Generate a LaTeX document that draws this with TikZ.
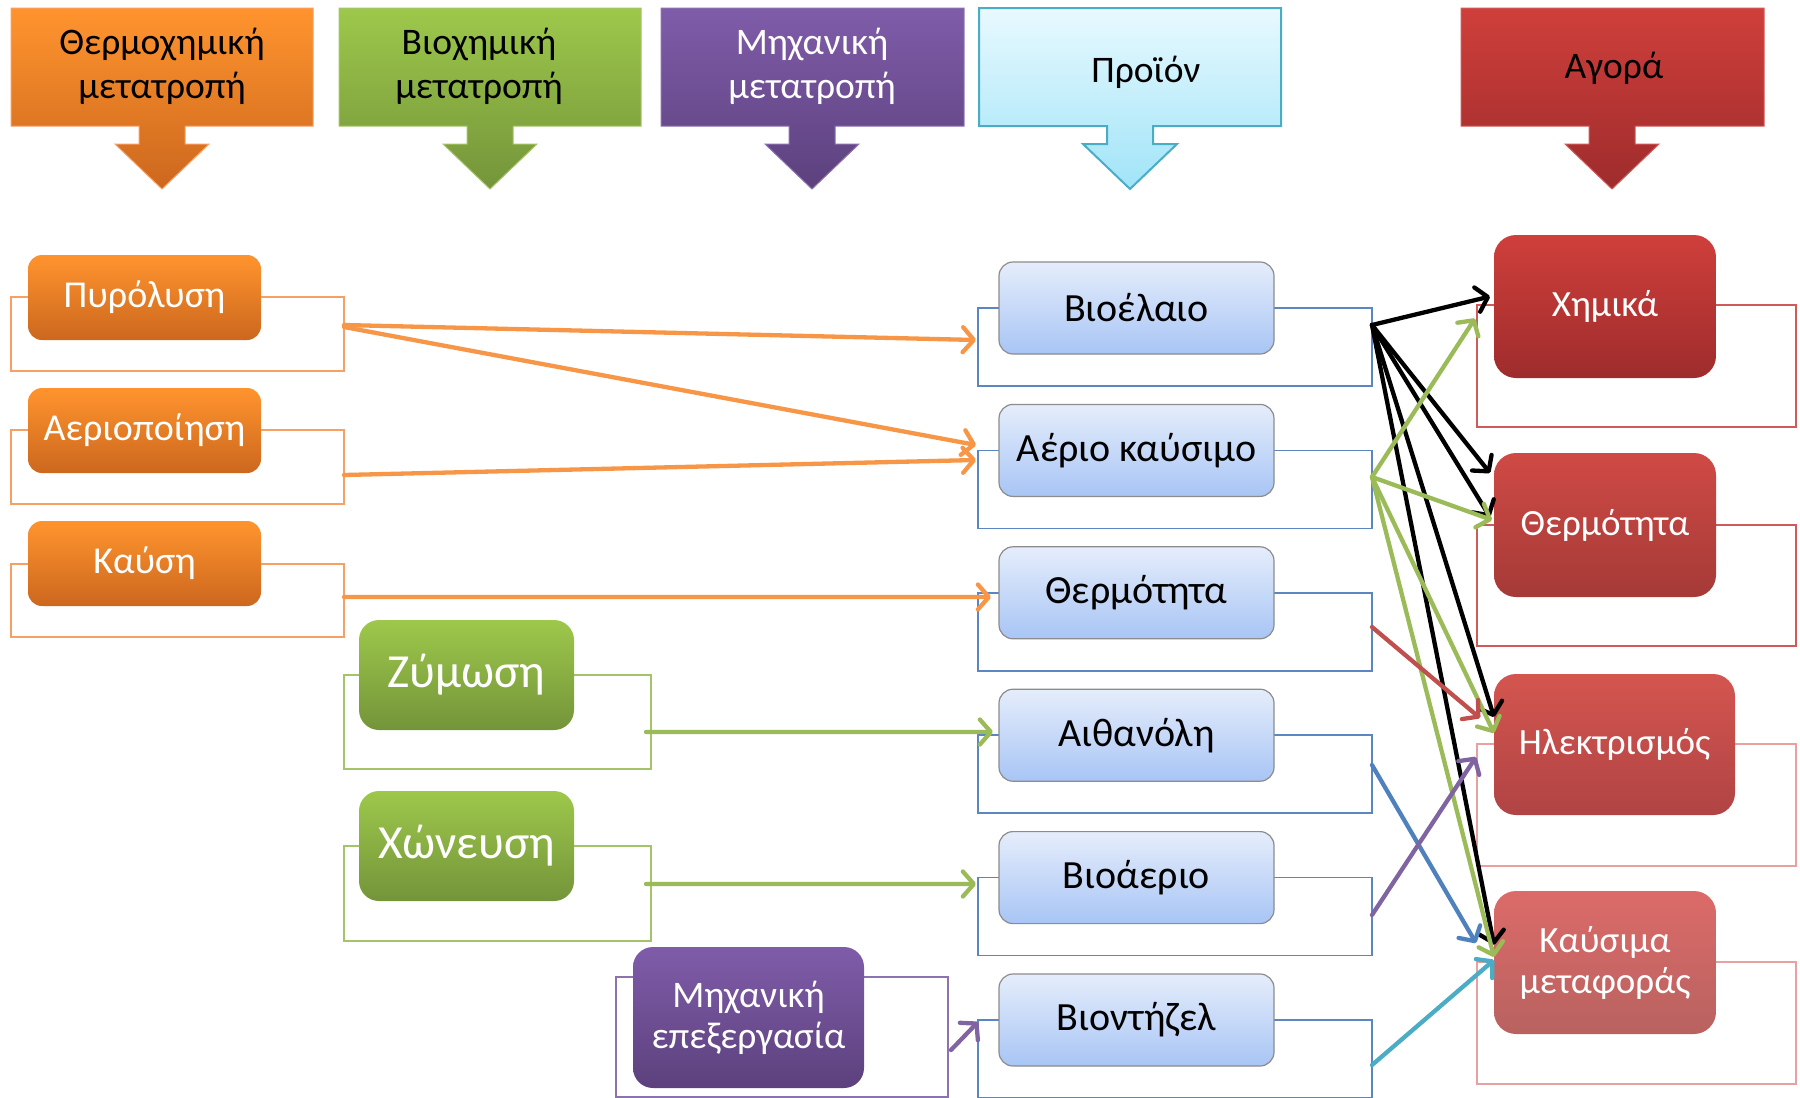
\documentclass[tikz,border=0pt]{standalone}
\usepackage{fontspec}
\setmainfont{Carlito}
\usetikzlibrary{arrows.meta,calc}
\definecolor{orTop}{HTML}{FF942E}
\definecolor{orBot}{HTML}{CC671E}
\definecolor{grTop}{HTML}{9DC84B}
\definecolor{grBot}{HTML}{74943A}
\definecolor{puTop}{HTML}{7F5CA9}
\definecolor{puBot}{HTML}{5C417D}
\definecolor{cyTop}{HTML}{E8F9FE}
\definecolor{cyBot}{HTML}{A0E4F8}
\definecolor{cyLine}{HTML}{4BACC6}
\definecolor{rdTop}{HTML}{CF3F3B}
\definecolor{rdBot}{HTML}{9E2C2C}
\definecolor{rdTopB}{HTML}{CF4A45}
\definecolor{rdBotB}{HTML}{A53A37}
\definecolor{rdTopC}{HTML}{D4554F}
\definecolor{rdBotC}{HTML}{B04444}
\definecolor{rdTopD}{HTML}{DC6B69}
\definecolor{rdBotD}{HTML}{B86260}
\definecolor{pbTop}{HTML}{E5EDFB}
\definecolor{pbBot}{HTML}{A8C5F5}
\definecolor{pbLine}{HTML}{8C8C8C}
\definecolor{olOr}{HTML}{F7A064}
\definecolor{olGr}{HTML}{A5C46A}
\definecolor{olPu}{HTML}{8C72AE}
\definecolor{olBl}{HTML}{5B86C2}
\definecolor{olRd}{HTML}{D05A5A}
\definecolor{olPk}{HTML}{E8A0A0}
\definecolor{aOr}{HTML}{F79646}
\definecolor{aGr}{HTML}{9BBB59}
\definecolor{aRd}{HTML}{C0504D}
\definecolor{aBl}{HTML}{4F81BD}
\definecolor{aPu}{HTML}{8064A2}
\definecolor{aCy}{HTML}{4BACC6}
\newcommand\hdrshape[4]{%
  \path[#4] (#1,8) -- (#2,8) -- (#2,126) -- ({#3+23},126) -- ({#3+23},144) -- ({#3+47},144) -- (#3,189) -- ({#3-47},144) -- ({#3-23},144) -- ({#3-23},126) -- (#1,126) -- cycle;}
\begin{document}
\begin{tikzpicture}[x=1pt,y=-1pt,
  box/.style={anchor=north west, inner sep=0pt, outer sep=0pt, align=center},
  ol/.style={box, draw=#1, line width=1.5pt},
  htext/.style={align=center, font=\fontsize{37.5}{44}\selectfont},
  leftbox/.style={box, rounded corners=14pt, top color=orTop, bottom color=orBot, text=white, font=\fontsize{38}{46}\selectfont, minimum width=233pt, minimum height=85pt},
  greenbox/.style={box, rounded corners=20pt, top color=grTop, bottom color=grBot, text=white, font=\fontsize{47.5}{56}\selectfont, minimum width=215pt, minimum height=110pt},
  mechbox/.style={box, rounded corners=20pt, top color=puTop, bottom color=puBot, text=white, font=\fontsize{37.5}{41}\selectfont, minimum width=231pt, minimum height=141pt},
  prodbox/.style={box, rounded corners=14pt, top color=pbTop, bottom color=pbBot, draw=pbLine, line width=1.2pt, font=\fontsize{40}{46}\selectfont, minimum width=275pt, minimum height=92pt},
  mktbox/.style 2 args={box, rounded corners=22pt, top color=#1, bottom color=#2, text=white, font=\fontsize{37}{41}\selectfont, minimum width=222pt, minimum height=143pt},
  arr/.style={line width=4.3pt, line cap=round, line join=round, draw=#1, -{Straight Barb[round,length=11pt,width=25pt]}}
]
\useasboundingbox (0,0) rectangle (1800,1098);

% headers
\hdrshape{11}{313}{162}{top color=orTop, bottom color=orBot, draw=olOr, line width=1pt}
\hdrshape{339}{641}{490}{top color=grTop, bottom color=grBot, draw=olGr, line width=1pt}
\hdrshape{661}{964}{812}{top color=puTop, bottom color=puBot, draw=olPu, line width=1pt}
\hdrshape{979}{1281}{1130}{top color=cyTop, bottom color=cyBot, draw=cyLine, line width=2pt}
\hdrshape{1461}{1764}{1612}{top color=rdTop, bottom color=rdBot, draw=olRd, line width=1pt}
\node[htext] (h1) at (162,66) {Θερμοχημική\\μετατροπή};
\node[htext] (h2) at (479,66) {Βιοχημική\\μετατροπή};
\node[htext, text=white] (h3) at (812,66) {Μηχανική\\μετατροπή};
\node[htext] (h4) at (1146,72) {Προϊόν};
\node[htext] (h5) at (1614,68) {Αγορά};

% outline rectangles
\node[ol=olOr, minimum width=333pt, minimum height=74pt] (po) at (11,297) {};
\node[ol=olOr, minimum width=333pt, minimum height=74pt] (ao) at (11,430) {};
\node[ol=olOr, minimum width=333pt, minimum height=73pt] (ko) at (11,564) {};
\node[ol=olGr, minimum width=307pt, minimum height=94pt] (zo) at (344,675) {};
\node[ol=olGr, minimum width=307pt, minimum height=95pt] (xo) at (344,846) {};
\node[ol=olPu, minimum width=332pt, minimum height=120pt] (mo) at (616,977) {};
\foreach \k in {1,...,6}{
  \node[ol=olBl, minimum width=394pt, minimum height=78pt] (bo\k) at (978,{308+142.4*(\k-1)}) {};
}
\node[ol=olRd, minimum width=319pt, minimum height=122pt] (mo1) at (1477,305) {};
\node[ol=olRd, minimum width=319pt, minimum height=121pt] (mo2) at (1477,525) {};
\node[ol=olPk, minimum width=319pt, minimum height=122pt] (mo3) at (1477,744) {};
\node[ol=olPk, minimum width=319pt, minimum height=122pt] (mo4) at (1477,962) {};

% left process boxes
\node[leftbox] (pyr) at (28,255) {Πυρόλυση};
\node[leftbox] (aer) at (28,388) {Αεριοποίηση};
\node[leftbox] (kay) at (28,521) {Καύση};
\node[greenbox] (zym) at (359,620) {Ζύμωση};
\node[greenbox] (xon) at (359,791) {Χώνευση};
\node[mechbox] (mech) at (633,947) {Μηχανική\\επεξεργασία};

% products
\node[prodbox] (pb1) at (999,262) {Βιοέλαιο};
\node[prodbox] (pb2) at (999,404.4) {Αέριο καύσιμο};
\node[prodbox] (pb3) at (999,546.8) {Θερμότητα};
\node[prodbox] (pb4) at (999,689.2) {Αιθανόλη};
\node[prodbox] (pb5) at (999,831.6) {Βιοάεριο};
\node[prodbox] (pb6) at (999,974) {Βιοντήζελ};

% markets
\node[mktbox={rdTop}{rdBot}] (mb1) at (1494,235) {Χημικά};
\node[mktbox={rdTopB}{rdBotB}, minimum height=144pt] (mb2) at (1494,453) {Θερμότητα};
\node[mktbox={rdTopC}{rdBotC}, minimum width=241pt, minimum height=141pt] (mb3) at (1494,674) {Ηλεκτρισμός};
\node[mktbox={rdTopD}{rdBotD}] (mb4) at (1494,891) {Καύσιμα\\μεταφοράς};

% process -> product
\draw[arr=aOr] ([yshift=9pt]po.east) -- ([xshift=-2pt,yshift=7pt]bo1.west);
\draw[arr=aOr] ([yshift=7pt]po.east) -- ([xshift=-2pt,yshift=44.4pt]bo2.west);
\draw[arr=aOr] ([yshift=-8pt]ao.east) -- ([xshift=-2pt,yshift=29.4pt]bo2.west);
\draw[arr=aOr] ([yshift=3.5pt]ko.east) -- ([xshift=13pt,yshift=34.8pt]bo3.west);
\draw[arr=aGr] ([xshift=-5pt,yshift=-10pt]zo.east) -- ([xshift=15pt,yshift=42.2pt]bo4.west);
\draw[arr=aGr] ([xshift=-5pt,yshift=9.5pt]xo.east) -- ([xshift=-2pt,yshift=32.6pt]bo5.west);
\draw[arr=aPu] ([xshift=3pt,yshift=-13pt]mo.east) -- ([yshift=37pt]bo6.west);

% product -> market
\draw[arr=black] ([yshift=22pt]bo1.east) -- ([xshift=-4pt,yshift=10pt]mb1.west);
\draw[arr=black] ([yshift=22pt]bo1.east) -- ([xshift=-4pt,yshift=52pt]mb2.west);
\draw[arr=black] ([yshift=22pt]bo1.east) -- ([xshift=-4pt,yshift=8pt]mb2.west);
\draw[arr=black] ([yshift=22pt]bo1.east) -- ([yshift=27.5pt]mb3.west);
\draw[arr=black] ([yshift=22pt]bo1.east) -- ([yshift=17.5pt]mb4.west);
\draw[arr=aGr] ([yshift=12.4pt]bo2.east) -- ([xshift=-19pt,yshift=-12pt]mb1.west);
\draw[arr=aGr] ([yshift=12.4pt]bo2.east) -- ([xshift=-2pt,yshift=5pt]mb2.west);
\draw[arr=aGr] ([yshift=12.4pt]bo2.east) -- ([yshift=11.5pt]mb3.west);
\draw[arr=aGr] ([yshift=12.4pt]bo2.east) -- ([yshift=5.5pt]mb4.west);
\draw[arr=aRd] ([yshift=4.8pt]bo3.east) -- ([xshift=-14pt,yshift=26.5pt]mb3.west);
\draw[arr=aBl] ([yshift=9.2pt]bo4.east) -- ([xshift=-18pt,yshift=19.5pt]mb4.west);
\draw[arr=aPu] ([yshift=1.6pt]bo5.east) -- ([xshift=-18pt,yshift=-12.5pt]mb3.west);
\draw[arr=aCy] ([yshift=-6pt]bo6.east) -- ([yshift=2.5pt]mb4.west);
\end{tikzpicture}
\end{document}
